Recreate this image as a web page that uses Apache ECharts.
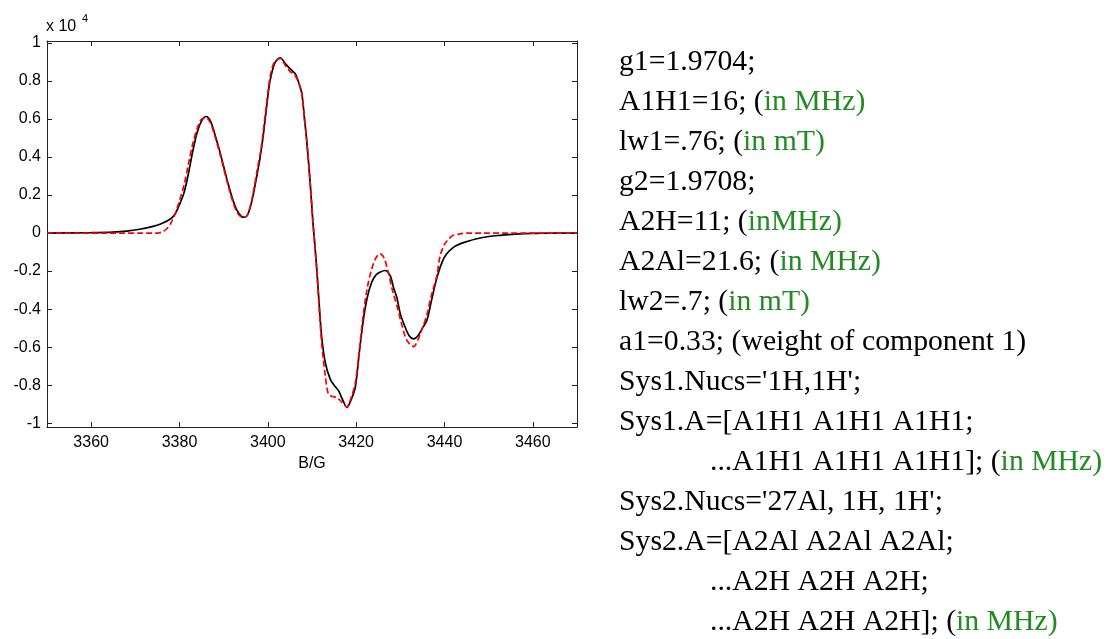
<!DOCTYPE html>
<html>
<head>
<meta charset="utf-8">
<title>EPR spectrum fit</title>
<script src="https://cdn.jsdelivr.net/npm/echarts@6/dist/echarts.min.js"></script>
<style>
html, body { margin: 0; padding: 0; background: #fff; }
#main { width: 1109px; height: 639px; }
</style>
</head>
<body>
<div id="main"></div>
<script>
// experimental spectrum (black), B/G vs intensity x 10^4
var expField = [3350, 3360, 3365, 3368, 3371, 3374, 3376, 3378, 3379, 3380, 3381, 3382, 3383, 3384, 3385, 3386, 3387, 3388, 3389, 3390,
  3391, 3392, 3393, 3394, 3394.7, 3395.5, 3396.5, 3397.5, 3398.2, 3399, 3400, 3400.5, 3401.5, 3402.8, 3404, 3405, 3406.2, 3407, 3407.7, 3408.3,
  3408.8, 3409.6, 3410.2, 3410.6, 3411.1, 3411.7, 3412.2, 3413, 3414.1, 3415, 3416, 3417, 3417.9, 3418.8, 3419.8, 3420.7, 3421.6, 3422.5, 3423.5, 3424.5,
  3425.5, 3426.5, 3427.7, 3428.5, 3429.2, 3430, 3431, 3432, 3433, 3434, 3435, 3436, 3437, 3438.3, 3439.5, 3440.5, 3442, 3443.5, 3445, 3447.3,
  3450, 3452.6, 3456, 3460, 3470];
var expIntensity = [0, 0.002, 0.005, 0.01, 0.02, 0.035, 0.05, 0.075, 0.1, 0.15, 0.21, 0.31, 0.43, 0.53, 0.59, 0.613, 0.59, 0.52, 0.44, 0.35,
  0.26, 0.18, 0.12, 0.088, 0.083, 0.1, 0.18, 0.3, 0.39, 0.52, 0.72, 0.8, 0.89, 0.922, 0.89, 0.865, 0.838, 0.79, 0.733, 0.6,
  0.487, 0.259, 0.06, -0.05, -0.197, -0.4, -0.548, -0.68, -0.767, -0.8, -0.829, -0.88, -0.917, -0.88, -0.811, -0.63, -0.46, -0.34, -0.26, -0.22,
  -0.205, -0.197, -0.224, -0.29, -0.338, -0.425, -0.49, -0.54, -0.557, -0.54, -0.5, -0.46, -0.36, -0.233, -0.15, -0.109, -0.075, -0.057, -0.045, -0.03,
  -0.018, -0.012, -0.006, -0.002, 0];

// simulated spectrum (red dashed)
var simField = [3350, 3375, 3376, 3377, 3378, 3379, 3380, 3381, 3382, 3383, 3384, 3385, 3386, 3387, 3388, 3389, 3390, 3391, 3392, 3393,
  3394, 3394.7, 3395.5, 3396.5, 3397.5, 3398.5, 3399.5, 3400.5, 3401.5, 3402.8, 3404, 3405, 3406, 3407, 3407.7, 3408.3, 3408.8, 3409.6, 3410.2, 3410.6,
  3411.1, 3411.7, 3412.2, 3413, 3413.7, 3414.6, 3415.6, 3416.8, 3417.9, 3418.8, 3419.8, 3420.7, 3421.6, 3422.5, 3423.5, 3424.5, 3425.4, 3426.3, 3427.2, 3428.2,
  3429.2, 3430.2, 3431.2, 3432.3, 3433, 3434, 3435, 3436, 3437, 3438.3, 3439, 3440, 3441, 3442, 3443.5, 3445, 3470];
var simIntensity = [0, 0, 0.005, 0.02, 0.05, 0.1, 0.17, 0.25, 0.36, 0.47, 0.55, 0.6, 0.605, 0.58, 0.51, 0.43, 0.34, 0.25, 0.17, 0.11,
  0.085, 0.083, 0.1, 0.19, 0.32, 0.45, 0.64, 0.82, 0.9, 0.918, 0.88, 0.85, 0.835, 0.79, 0.733, 0.6, 0.49, 0.26, 0.06, -0.05,
  -0.2, -0.42, -0.58, -0.75, -0.846, -0.86, -0.864, -0.89, -0.915, -0.87, -0.79, -0.62, -0.43, -0.29, -0.19, -0.13, -0.109, -0.13, -0.2, -0.3,
  -0.38, -0.47, -0.55, -0.59, -0.597, -0.56, -0.5, -0.43, -0.33, -0.22, -0.12, -0.06, -0.03, -0.012, -0.004, 0, 0];

var xTicks = [3360, 3380, 3400, 3420, 3440, 3460];
var yTicks = [-1, -0.8, -0.6, -0.4, -0.2, 0, 0.2, 0.4, 0.6, 0.8, 1];

// simulation parameters printed to the right ({g|...} = green)
var noteLines = [
  'g1=1.9704;',
  'A1H1=16; ({g|in MHz)}',
  'lw1=.76; ({g|in mT)}',
  'g2=1.9708;',
  'A2H=11; ({g|inMHz)}',
  'A2Al=21.6; ({g|in MHz)}',
  'lw2=.7; ({g|in mT)}',
  'a1=0.33; (weight of component 1)',
  "Sys1.Nucs='1H,1H';",
  'Sys1.A=[A1H1 A1H1 A1H1;',
  '...A1H1 A1H1 A1H1]; ({g|in MHz)}',
  "Sys2.Nucs='27Al, 1H, 1H';",
  'Sys2.A=[A2Al A2Al A2Al;',
  '...A2H A2H A2H;',
  '...A2H A2H A2H]; ({g|in MHz)}'
];
var noteIndent = [0, 0, 0, 0, 0, 0, 0, 0, 0, 0, 1, 0, 0, 1, 1];

function pairs(xs, ys) {
  return xs.map(function (x, i) { return [x, ys[i]]; });
}

var axisColor = '#222';
var labelFont = 'Liberation Sans';

var graphics = [
  { type: 'text', x: 46, y: 19, style: { text: 'x 10', fontSize: 16, fontFamily: labelFont, fill: '#000' } },
  { type: 'text', x: 82, y: 13, style: { text: '4', fontSize: 11, fontFamily: labelFont, fill: '#000' } }
];
noteLines.forEach(function (t, i) {
  graphics.push({
    type: 'text',
    x: noteIndent[i] ? 710 : 619,
    y: 62 + 40 * i,
    style: {
      text: t,
      fontSize: 29,
      fontFamily: 'Liberation Serif',
      fill: '#000',
      verticalAlign: 'middle',
      rich: {
        g: { fill: '#228B22', color: '#228B22', fontSize: 29, fontFamily: 'Liberation Serif' }
      }
    },
    scaleX: 1.025
  });
});

var myChart = echarts.init(document.getElementById('main'));
var option = {
  animation: false,
  backgroundColor: '#fff',
  grid: { left: 47, top: 41, width: 530, height: 386, show: false },
  xAxis: [{
    type: 'value', min: 3350, max: 3470, position: 'bottom',
    axisLine: { onZero: false, lineStyle: { color: axisColor, width: 1 } },
    axisTick: { inside: true, length: 5, customValues: xTicks, lineStyle: { color: axisColor } },
    axisLabel: {
      customValues: xTicks, color: '#000', fontSize: 16, fontFamily: labelFont, margin: 8,
      formatter: function (v) { return String(v); }
    },
    splitLine: { show: false },
    name: 'B/G', nameLocation: 'middle', nameGap: 29,
    nameTextStyle: { color: '#000', fontSize: 16, fontFamily: labelFont }
  }, {
    type: 'value', min: 3350, max: 3470, position: 'top',
    axisLine: { onZero: false, lineStyle: { color: axisColor, width: 1 } },
    axisTick: { inside: true, length: 5, customValues: xTicks, lineStyle: { color: axisColor } },
    axisLabel: { show: false },
    splitLine: { show: false }
  }],
  yAxis: [{
    type: 'value', min: -1.02, max: 1.01, position: 'left',
    axisLine: { show: true, onZero: false, lineStyle: { color: axisColor, width: 1 } },
    axisTick: { show: true, inside: true, length: 5, customValues: yTicks, lineStyle: { color: axisColor } },
    axisLabel: { customValues: yTicks, color: '#000', fontSize: 16, fontFamily: labelFont, margin: 6 },
    splitLine: { show: false }
  }, {
    type: 'value', min: -1.02, max: 1.01, position: 'right',
    axisLine: { show: true, onZero: false, lineStyle: { color: axisColor, width: 1 } },
    axisTick: { show: true, inside: true, length: 5, customValues: yTicks, lineStyle: { color: axisColor } },
    axisLabel: { show: false },
    splitLine: { show: false }
  }],
  series: [{
    name: 'experiment', type: 'line', xAxisIndex: 0, yAxisIndex: 0,
    data: pairs(expField, expIntensity),
    showSymbol: false, smooth: 0.3,
    lineStyle: { color: '#000', width: 1.7 }
  }, {
    name: 'simulation', type: 'line', xAxisIndex: 0, yAxisIndex: 0,
    data: pairs(simField, simIntensity),
    showSymbol: false, smooth: 0.3,
    lineStyle: { color: '#ff0000', width: 1.7, type: [6, 3] }
  }],
  graphic: graphics
};
myChart.setOption(option);
</script>
</body>
</html>
